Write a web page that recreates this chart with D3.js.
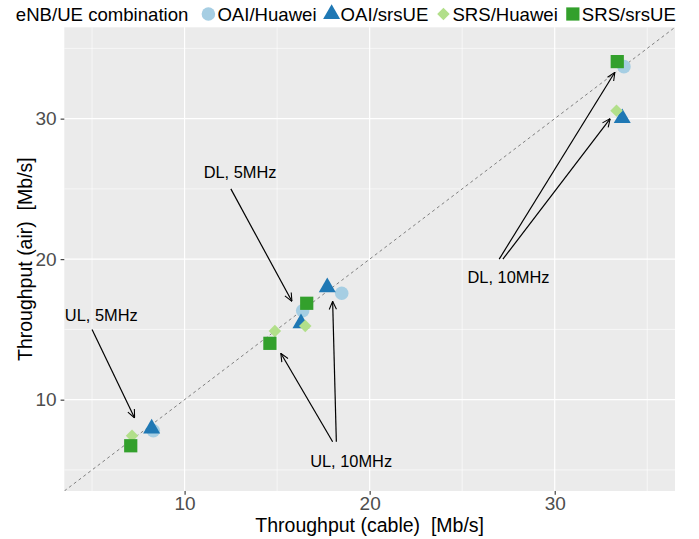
<!DOCTYPE html>
<html>
<head>
<meta charset="utf-8">
<script src="https://cdn.jsdelivr.net/npm/d3@7"></script>
<style>
  body { margin: 0; background: #fff; }
  text { font-family: "Liberation Sans", Arial, sans-serif; white-space: pre; }
</style>
</head>
<body>
<div id="root"></div>
<script>
// eNB/UE combinations and the four test cases
const combos = ['OAI/Huawei', 'OAI/srsUE', 'SRS/Huawei', 'SRS/srsUE']
const cases = ['UL, 5MHz', 'UL, 10MHz', 'DL, 5MHz', 'DL, 10MHz']

// throughput over cable, per combo, in the order of cases
const cableOaiHuawei = [8.31, 18.49, 16.38, 33.74]
const cableOaiSrsue = [8.22, 17.71, 16.29, 33.65]
const cableSrsHuawei = [7.16, 14.88, 16.52, 33.34]
const cableSrsSrsue = [7.09, 14.61, 16.60, 33.38]

// throughput over the air, same order
const airOaiHuawei = [7.79, 17.57, 16.33, 33.70]
const airOaiSrsue = [7.95, 18.00, 15.44, 30.03]
const airSrsHuawei = [7.44, 14.89, 15.24, 30.57]
const airSrsSrsue = [6.72, 14.01, 16.86, 34.06]

const xTicks = [10, 20, 30]
const yTicks = [10, 20, 30]

// annotation labels and where their arrows point (data coords)
const labelPos = [[5.5, 16.0], [19.0, 5.6], [13.0, 26.2], [27.5, 18.7]]
const arrowFrom = [[[5.0, 15.0]], [[18.0, 7.0], [18.2, 7.0]], [[12.5, 25.0]], [[27.0, 20.0], [27.2, 20.0]]]
const arrowTo = [[[7.3, 8.7]], [[15.2, 13.3], [18.0, 17.0]], [[15.8, 17.0]], [[33.25, 33.3], [33.0, 30.0]]]

const cable = [cableOaiHuawei, cableOaiSrsue, cableSrsHuawei, cableSrsSrsue]
const air = [airOaiHuawei, airOaiSrsue, airSrsHuawei, airSrsSrsue]

const points = []
combos.forEach((c, i) => {
    cases.forEach((k, j) => {
        points.push({combo: c, test: k, x: cable[i][j], y: air[i][j]})
    })
})

const w = 699, h = 539
const panel = {left: 64.3, right: 675, top: 27.3, bottom: 491}

const x = d3.scaleLinear().domain([3.5, 36.5]).range([panel.left, panel.right])
const y = d3.scaleLinear().domain([3.5, 36.5]).range([panel.bottom, panel.top])

const colour = d3.scaleOrdinal().domain(combos).range(['#a6cee3', '#1f78b4', '#b2df8a', '#33a02c'])
const shapes = {
    'OAI/Huawei': {type: d3.symbolCircle, size: 145, rot: 0},
    'OAI/srsUE': {type: d3.symbolTriangle, size: 125, rot: 0},
    'SRS/Huawei': {type: d3.symbolSquare, size: 78, rot: 45},
    'SRS/srsUE': {type: d3.symbolSquare, size: 175, rot: 0}
}

const svg = d3.select('#root')
    .append('svg')
    .attr('width', w)
    .attr('height', h)

svg.append('defs').append('marker')
    .attr('id', 'head')
    .attr('viewBox', '0 0 10 10')
    .attr('refX', 10)
    .attr('refY', 5)
    .attr('markerWidth', 9)
    .attr('markerHeight', 9)
    .attr('markerUnits', 'userSpaceOnUse')
    .attr('orient', 'auto')
    .append('path')
    .attr('d', 'M1,1 L10,5 L1,9')
    .attr('fill', 'none')
    .attr('stroke', '#000')
    .attr('stroke-width', 1.2)

// panel background
svg.append('rect')
    .attr('x', panel.left)
    .attr('y', panel.top)
    .attr('width', panel.right - panel.left)
    .attr('height', panel.bottom - panel.top)
    .attr('fill', '#ebebeb')

svg.append('clipPath').attr('id', 'clip')
    .append('rect')
    .attr('x', panel.left)
    .attr('y', panel.top)
    .attr('width', panel.right - panel.left)
    .attr('height', panel.bottom - panel.top)

// minor grid
const minor = [5, 15, 25, 35]
svg.selectAll('.vminor').data(minor).enter().append('line')
    .attr('x1', d => x(d)).attr('x2', d => x(d))
    .attr('y1', panel.top).attr('y2', panel.bottom)
    .attr('stroke', '#fff').attr('stroke-width', 0.6)
svg.selectAll('.hminor').data(minor).enter().append('line')
    .attr('y1', d => y(d)).attr('y2', d => y(d))
    .attr('x1', panel.left).attr('x2', panel.right)
    .attr('stroke', '#fff').attr('stroke-width', 0.6)

// major grid
svg.selectAll('.vmajor').data(xTicks).enter().append('line')
    .attr('x1', d => x(d)).attr('x2', d => x(d))
    .attr('y1', panel.top).attr('y2', panel.bottom)
    .attr('stroke', '#fff').attr('stroke-width', 1.2)
svg.selectAll('.hmajor').data(yTicks).enter().append('line')
    .attr('y1', d => y(d)).attr('y2', d => y(d))
    .attr('x1', panel.left).attr('x2', panel.right)
    .attr('stroke', '#fff').attr('stroke-width', 1.2)

// y = x reference line
svg.append('line')
    .attr('clip-path', 'url(#clip)')
    .attr('x1', x(3.5)).attr('y1', y(3.5))
    .attr('x2', x(36.5)).attr('y2', y(36.5))
    .attr('stroke', '#7f7f7f')
    .attr('stroke-width', 1)
    .attr('stroke-dasharray', '3,3')

// axes
const xAxis = svg.append('g')
    .attr('transform', `translate(0,${panel.bottom})`)
    .call(d3.axisBottom(x).tickValues(xTicks).tickSize(3.7).tickPadding(2))
const yAxis = svg.append('g')
    .attr('transform', `translate(${panel.left},0)`)
    .call(d3.axisLeft(y).tickValues(yTicks).tickSize(3.7).tickPadding(4))
;[xAxis, yAxis].forEach(a => {
    a.select('.domain').remove()
    a.selectAll('.tick line').attr('stroke', '#333').attr('stroke-width', 1.1)
    a.selectAll('.tick text')
        .attr('fill', '#4d4d4d')
        .style('font-size', '19px')
        .style('font-family', '"Liberation Sans", Arial, sans-serif')
})
xAxis.selectAll('.tick text').attr('dy', '0.72em')

svg.append('text')
    .attr('x', (panel.left + panel.right) / 2)
    .attr('y', 532)
    .attr('text-anchor', 'middle')
    .style('font-size', '19.5px')
    .text('Throughput (cable)  [Mb/s]')

svg.append('text')
    .attr('transform', `translate(32,${(panel.top + panel.bottom) / 2}) rotate(-90)`)
    .attr('text-anchor', 'middle')
    .style('font-size', '19.5px')
    .text('Throughput (air)  [Mb/s]')

// annotations
cases.forEach((k, i) => {
    svg.append('text')
        .attr('x', x(labelPos[i][0]))
        .attr('y', y(labelPos[i][1]))
        .attr('dy', '0.36em')
        .attr('text-anchor', 'middle')
        .style('font-size', '16.4px')
        .text(k)
    arrowFrom[i].forEach((f, m) => {
        const t = arrowTo[i][m]
        svg.append('line')
            .attr('x1', x(f[0])).attr('y1', y(f[1]))
            .attr('x2', x(t[0])).attr('y2', y(t[1]))
            .attr('stroke', '#000')
            .attr('stroke-width', 1.2)
            .attr('marker-end', 'url(#head)')
    })
})

// points
svg.selectAll('.pt')
    .data(points)
    .enter()
    .append('path')
    .attr('class', 'pt')
    .attr('d', d => d3.symbol().type(shapes[d.combo].type).size(shapes[d.combo].size)())
    .attr('transform', d => `translate(${x(d.x)},${y(d.y)}) rotate(${shapes[d.combo].rot})`)
    .attr('fill', d => colour(d.combo))

// legend on top
const legend = svg.append('g').attr('transform', 'translate(0,14)')
const title = legend.append('text')
    .attr('x', 15.8)
    .attr('dy', '0.36em')
    .style('font-size', '18.6px')
    .text('eNB/UE combination')
let cursor = 15.8 + title.node().getComputedTextLength() + 20
combos.forEach(c => {
    legend.append('path')
        .attr('d', d3.symbol().type(shapes[c].type).size(shapes[c].size)())
        .attr('transform', `translate(${cursor},0) rotate(${shapes[c].rot})`)
        .attr('fill', colour(c))
    const t = legend.append('text')
        .attr('x', cursor + 9)
        .attr('dy', '0.36em')
        .style('font-size', '18.6px')
        .text(c)
    cursor += 9 + t.node().getComputedTextLength() + 15
})
</script>
</body>
</html>
